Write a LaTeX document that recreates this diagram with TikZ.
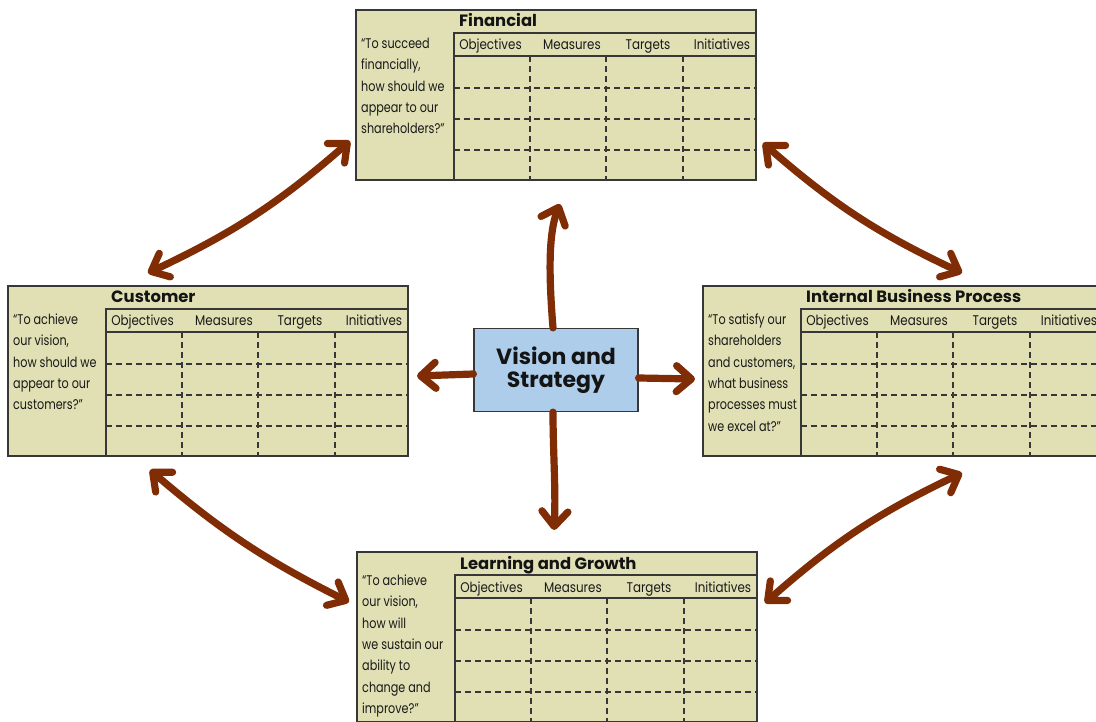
\documentclass[tikz,border=0pt]{standalone}
\usepackage{fontspec}
\setmainfont{Poppins}[FakeStretch=0.85]
\newfontfamily\ttlfont{Poppins}
\newfontfamily\qfont{Poppins}[FakeStretch=0.80]
\usetikzlibrary{arrows.meta}
\definecolor{boxfill}{RGB}{224,224,180}
\definecolor{boxline}{RGB}{55,55,55}
\definecolor{arrbrown}{RGB}{128,45,5}
\definecolor{visfill}{RGB}{174,205,235}
\tikzset{
  pbox/.style={draw=boxline, fill=boxfill, line width=1.3pt, minimum width=400pt, minimum height=170pt, anchor=north west, inner sep=0pt, outer sep=0pt},
  hdline/.style={draw=boxline, line width=1.8pt},
  gridline/.style={draw=boxline, line width=1.1pt, dash pattern=on 6pt off 4pt},
  ptitle/.style={anchor=base west, inner sep=0pt, font=\ttlfont\bfseries\fontsize{16.4}{16.4}\selectfont, text=black!92},
  hlab/.style={anchor=base, inner sep=0pt, font=\fontsize{14}{14}\selectfont, text=black!90},
  pquote/.style={anchor=north west, inner sep=0pt, align=left, font=\qfont\fontsize{14}{21.3}\selectfont, text=black!90},
  vis/.style={draw=boxline, fill=visfill, line width=1.2pt, minimum width=164pt, minimum height=83pt, align=center, inner sep=0pt, font=\ttlfont\bfseries\fontsize{22}{23}\selectfont, text=black!92},
  barb/.tip={Straight Barb[length=15pt,width=26pt,line width=0pt 1,round]},
  conn/.style={draw=arrbrown, line width=7.2pt, line cap=round, -barb},
  biconn/.style={draw=arrbrown, line width=7.2pt, line cap=round, barb-barb}
}
\newcommand\bscpanel[6]{%
  \node[pbox] (#1) at (#2,#3) {};
  \begin{scope}[shift={(#1.north west)}]
    \draw[hdline] (98,23) rectangle (400,46);
    \draw[hdline] (98,46) -- (98,170);
    \foreach \cx in {174,250,327} \draw[gridline] (\cx,46) -- (\cx,170);
    \foreach \ry in {78,109,140} \draw[gridline] (98,\ry) -- (400,\ry);
    \node[ptitle] (#1-t) at (103,17) {#4};
    \node[hlab] (#1-h1) at (134.5,40) {Objectives};
    \node[hlab] (#1-h2) at (216,40) {Measures};
    \node[hlab] (#1-h3) at (292,40) {Targets};
    \node[hlab] (#1-h4) at (366,40) {Initiatives};
    \node[pquote] (#1-q) at (5,#6) {#5};
  \end{scope}
}
\begin{document}
\begin{tikzpicture}[x=1pt,y=-1pt]
\useasboundingbox (0,0) rectangle (1096,722);
\fill[white] (0,0) rectangle (1096,722);
\clip (0,0) rectangle (1096,722);

\bscpanel{fin}{356}{10}{Financial}{\strut“To succeed\\financially,\\how should we\\appear to our\\shareholders?”}{23.4}
\bscpanel{cus}{8}{286}{Customer}{\strut“To achieve\\our vision,\\how should we\\appear to our\\customers?”}{23.4}
\bscpanel{ibp}{703}{286}{Internal Business Process}{\strut“To satisfy our\\shareholders\\and customers,\\what business\\processes must\\we excel at?”}{23.4}
\bscpanel{lg}{357}{552}{Learning and Growth}{\strut“To achieve\\our vision,\\how will\\we sustain our\\ability to\\change and\\improve?”}{18.5}

\node[vis] (vs) at (556,370) {Vision and\\Strategy};

% centre arrows
\draw[conn] ([xshift=-3pt]vs.north) .. controls +(-4,-50) and +(-12,30) .. ([xshift=4pt,yshift=-24pt]fin.south);
\draw[conn] ([xshift=-3pt]vs.south) .. controls +(0,40) and +(2,-40) .. ([xshift=-3pt,yshift=22pt]lg.north);
\draw[conn] ([yshift=-4pt]vs.west) -- ([xshift=9pt,yshift=-5pt]cus.east);
\draw[conn] ([yshift=-8pt]vs.east) -- ([xshift=-8pt,yshift=-8pt]ibp.west);

% corner arrows
\draw[biconn] ([xshift=140pt,yshift=13pt]cus.north west) to[bend right=8] ([xshift=-6pt,yshift=-46pt]fin.west);
\draw[biconn] ([xshift=7pt,yshift=-48pt]fin.east) to[bend right=8] ([xshift=259pt,yshift=13pt]ibp.north west);
\draw[biconn] ([xshift=142pt,yshift=-14pt]cus.south west) to[bend right=7] ([xshift=-8pt,yshift=35pt]lg.west);
\draw[biconn] ([xshift=259pt,yshift=-17pt]ibp.south west) to[bend right=8] ([xshift=8pt,yshift=34pt]lg.east);
\end{tikzpicture}
\end{document}
